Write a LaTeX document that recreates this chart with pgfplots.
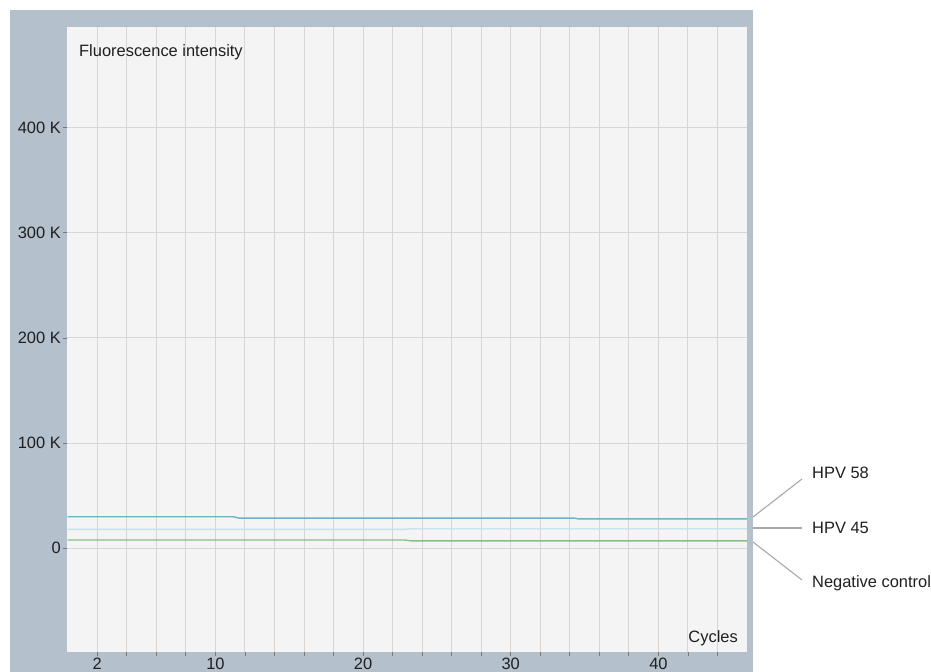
\documentclass[border=0pt]{standalone}
\usepackage{pgfplots}
\pgfplotsset{compat=1.18}
\usepackage{fontspec}
\setmainfont{Liberation Sans}

\definecolor{framebg}{HTML}{B4C0CB}
\definecolor{plotbg}{HTML}{F4F4F4}
\definecolor{gridc}{HTML}{DAD5D5}
\definecolor{tickc}{HTML}{777777}
\definecolor{hpvA}{HTML}{6CB2C9}
\definecolor{hpvB}{HTML}{C6E2EC}
\definecolor{negc}{HTML}{84C184}
\definecolor{leader}{HTML}{A8A8A8}

% Fluorescence per cycle (steps only where the signal shifts)
\pgfplotstableread{
cycle  fi
0      29800
11.2   29800
11.6   28500
34.3   28500
34.6   27700
46     27700
}\hpvfiftyeight
\pgfplotstableread{
cycle  fi
0      17700
22.8   17700
23.2   18300
46     18300
}\hpvfortyfive
\pgfplotstableread{
cycle  fi
0      7600
22.8   7600
23.3   6800
46     6800
}\negcontrol

\begin{document}
\begin{tikzpicture}[font=\fontsize{16.5}{19}\selectfont]
\useasboundingbox (0,0) rectangle (931bp,672bp);
% instrument panel frame
\fill[framebg] (10bp,0) rectangle (753bp,662bp);
\begin{axis}[
  at={(67bp,20bp)}, anchor=south west,
  scale only axis, width=680bp, height=625bp,
  xmin=-0.05, xmax=46, ymin=-99000, ymax=496000,
  axis line style={draw=none},
  axis background/.style={fill=plotbg},
  grid=major,
  major grid style={gridc, line width=0.9bp},
  tick pos=left,
  tick align=outside,
  major tick length=4bp,
  tick style={tickc, line width=0.8bp},
  xtick={2,4,...,44},
  xticklabels={2,{},{},{},10,{},{},{},{},20,{},{},{},{},30,{},{},{},{},40,{},{}},
  ytick={0,100000,200000,300000,400000},
  yticklabels={0,100 K,200 K,300 K,400 K},
  scaled y ticks=false,
  /pgf/number format/assume math mode=true,
  ticklabel style={text=black!88},
  xticklabel style={inner ysep=2bp},
  yticklabel style={inner xsep=2bp},
  xlabel={Cycles},
  xlabel style={at={(rel axis cs:1,0)}, anchor=south east, xshift=-9bp, yshift=6bp, inner sep=0pt, text=black!88},
  ylabel={Fluorescence intensity},
  ylabel style={rotate=-90, at={(rel axis cs:0,1)}, anchor=north west, xshift=12bp, yshift=-17bp, inner sep=0pt, text=black!88},
]
\addplot[hpvB, line width=1.4bp] table[x=cycle, y=fi] {\hpvfortyfive};
\addplot[negc, line width=1.4bp] table[x=cycle, y=fi] {\negcontrol};
\addplot[hpvA, line width=1.4bp] table[x=cycle, y=fi] {\hpvfiftyeight};
\end{axis}
% curve labels
\draw[leader, line width=1.1bp] (753bp,155bp) -- (802bp,193bp);
\draw[leader, line width=1.1bp] (753bp,144bp) -- (802bp,144bp);
\draw[leader, line width=1.1bp] (753bp,130bp) -- (802bp,92bp);
\node[anchor=west, inner sep=0pt, text=black!88] at (812bp,199bp) {HPV 58};
\node[anchor=west, inner sep=0pt, text=black!88] at (812bp,144bp) {HPV 45};
\node[anchor=west, inner sep=0pt, text=black!88] at (812bp,89bp) {Negative control};
\end{tikzpicture}
\end{document}
